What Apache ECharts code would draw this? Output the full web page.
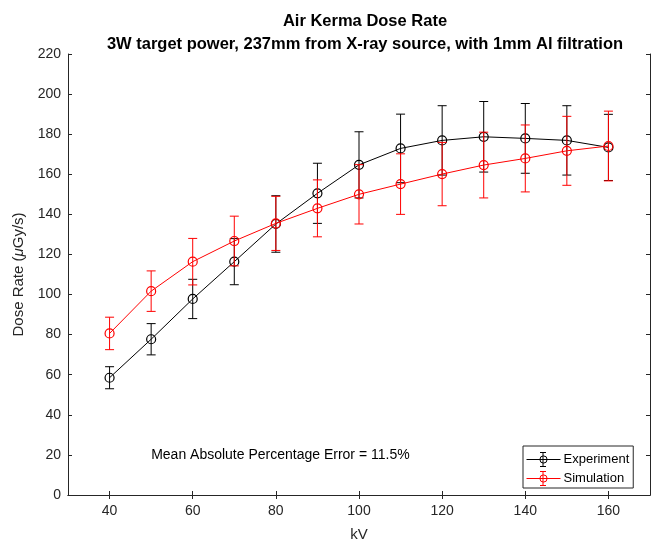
<!DOCTYPE html>
<html>
<head>
<meta charset="utf-8">
<script src="https://cdn.jsdelivr.net/npm/echarts@6/dist/echarts.min.js"></script>
<style>
  html, body { margin: 0; padding: 0; background: #fff; }
  #main { width: 653px; height: 542px; }
</style>
</head>
<body>
<div id="main"></div>
<script>
// kV settings
var kv = [40, 50, 60, 70, 80, 90, 100, 110, 120, 130, 140, 150, 160];
// measured dose rate (uGy/s) and error half-width
var expVal = [58.5, 77.7, 97.8, 116.4, 135.2, 150.5, 164.7, 172.9, 176.9, 178.7, 177.9, 176.9, 173.4];
var expErr = [5.5, 7.8, 9.8, 11.5, 14.1, 15.0, 16.5, 17.1, 17.3, 17.6, 17.4, 17.3, 16.5];
// simulated dose rate and error half-width
var simVal = [80.6, 101.7, 116.4, 126.7, 135.5, 143.0, 150.0, 155.1, 160.1, 164.6, 167.9, 171.7, 174.1];
var simErr = [8.1, 10.1, 11.6, 12.4, 13.5, 14.2, 14.8, 15.1, 15.8, 16.4, 16.7, 17.2, 17.4];
var xTicks = [40, 60, 80, 100, 120, 140, 160];

var FONT = "'Liberation Sans', Arial, Helvetica, sans-serif";
var AX = "#262626";

function pts(vals) {
    return kv.map(function (k, i) { return [k, vals[i]]; });
}
function bars(vals, errs) {
    return kv.map(function (k, i) { return [k, vals[i] - errs[i], vals[i] + errs[i]]; });
}
// error bar drawing: vertical line + caps
function errRender(color) {
    return function (params, api) {
        var x = api.value(0);
        var lo = api.coord([x, api.value(1)]);
        var hi = api.coord([x, api.value(2)]);
        var w = 4.5;
        var st = { stroke: color, lineWidth: 1 };
        return {
            type: "group",
            children: [
                { type: "line", shape: { x1: hi[0], y1: hi[1], x2: lo[0], y2: lo[1] }, style: st },
                { type: "line", shape: { x1: hi[0] - w, y1: hi[1], x2: hi[0] + w, y2: hi[1] }, style: st },
                { type: "line", shape: { x1: lo[0] - w, y1: lo[1], x2: lo[0] + w, y2: lo[1] }, style: st },
            ],
        };
    };
}
function lineSeries(name, vals, color, z) {
    return {
        name: name,
        type: "line",
        data: pts(vals),
        xAxisIndex: 0,
        yAxisIndex: 0,
        symbol: "circle",
        symbolSize: 9,
        z: z,
        lineStyle: { color: color, width: 1 },
        itemStyle: { color: "rgba(0,0,0,0)", borderColor: color, borderWidth: 1.2 },
        emphasis: { disabled: true },
        animation: false,
    };
}
function errSeries(vals, errs, color, z) {
    return {
        type: "custom",
        data: bars(vals, errs),
        xAxisIndex: 0,
        yAxisIndex: 0,
        z: z,
        renderItem: errRender(color),
        encode: { x: 0, y: [1, 2] },
        animation: false,
        silent: true,
    };
}

// legend box placement
var LEG_LEFT = 523, LEG_TOP = 446, LEG_PAD_L = 3, LEG_PAD_T = 6, LEG_ICON_W = 34, LEG_ROW_H = 15, LEG_GAP = 4;

var myChart = echarts.init(document.getElementById("main"));
myChart.setOption({
    animation: false,
    title: {
        text: "Air Kerma Dose Rate\n3W target power, 237mm from X-ray source, with 1mm Al filtration",
        left: 360,
        textAlign: "center",
        top: 5,
        textStyle: { fontFamily: FONT, fontSize: 16.5, fontWeight: "bold", color: "#000", lineHeight: 23 },
    },
    grid: { left: 68, top: 54, right: 3, bottom: 47, containLabel: false, outerBoundsMode: "none" },
    xAxis: [
        {
            type: "value",
            position: "bottom",
            min: 30,
            max: 170,
            name: "kV",
            nameLocation: "middle",
            nameGap: 32,
            nameTextStyle: { fontFamily: FONT, fontSize: 15, color: AX },
            axisLine: { show: true, lineStyle: { color: AX, width: 1 } },
            axisTick: { show: true, inside: true, length: 4, customValues: xTicks, lineStyle: { color: AX } },
            axisLabel: { customValues: xTicks, margin: 9, fontFamily: FONT, fontSize: 14, color: AX },
            splitLine: { show: false },
        },
        {
            type: "value",
            position: "top",
            min: 30,
            max: 170,
            axisLine: { show: true, lineStyle: { color: AX, width: 1 } },
            axisTick: { show: true, inside: true, length: 4, customValues: xTicks, lineStyle: { color: AX } },
            axisLabel: { show: false },
            splitLine: { show: false },
        },
    ],
    yAxis: [
        {
            type: "value",
            position: "left",
            min: 0,
            max: 220,
            interval: 20,
            name: "{n|Dose Rate (}{i|μ}{n|Gy/s)}",
            nameLocation: "middle",
            nameGap: 37,
            nameTextStyle: {
                rich: {
                    n: { fontFamily: FONT, fontSize: 15, color: AX },
                    i: { fontFamily: FONT, fontSize: 15, color: AX, fontStyle: "italic" },
                },
            },
            axisLine: { show: true, lineStyle: { color: AX, width: 1 } },
            axisTick: { show: true, inside: true, length: 4, lineStyle: { color: AX } },
            axisLabel: { margin: 7, fontFamily: FONT, fontSize: 14, color: AX },
            splitLine: { show: false },
        },
        {
            type: "value",
            position: "right",
            min: 0,
            max: 220,
            interval: 20,
            axisLine: { show: true, lineStyle: { color: AX, width: 1 } },
            axisTick: { show: true, inside: true, length: 4, lineStyle: { color: AX } },
            axisLabel: { show: false },
            splitLine: { show: false },
        },
    ],
    legend: {
        orient: "vertical",
        left: LEG_LEFT,
        top: LEG_TOP,
        padding: [LEG_PAD_T, 4, 2, LEG_PAD_L],
        itemGap: LEG_GAP,
        itemWidth: LEG_ICON_W,
        itemHeight: 9,
        borderColor: AX,
        borderWidth: 1,
        backgroundColor: "#fff",
        lineStyle: { width: 1 },
        itemStyle: { borderWidth: 1 },
        textStyle: { fontFamily: FONT, fontSize: 13, color: "#000", lineHeight: LEG_ROW_H, padding: [0, 0, 0, -2] },
        data: ["Experiment", "Simulation"],
    },
    series: [
        errSeries(expVal, expErr, "#000000", 2),
        lineSeries("Experiment", expVal, "#000000", 3),
        errSeries(simVal, simErr, "#ff0000", 4),
        lineSeries("Simulation", simVal, "#ff0000", 5),
    ],
});

// annotation text at data coords (50, 20), plus error-bar glyphs on the legend icons
var p = myChart.convertToPixel({ gridIndex: 0 }, [50, 20]);
function legendGlyph(row, color) {
    var cx = LEG_LEFT + LEG_PAD_L + LEG_ICON_W / 2;
    var cy = LEG_TOP + LEG_PAD_T + LEG_ROW_H / 2 + row * (LEG_ROW_H + LEG_GAP);
    var st = { stroke: color, lineWidth: 1 };
    return [
        { type: "line", z: 300, zlevel: 1, shape: { x1: cx, y1: cy - 7, x2: cx, y2: cy + 7 }, style: st },
        { type: "line", z: 300, zlevel: 1, shape: { x1: cx - 3, y1: cy - 7, x2: cx + 3, y2: cy - 7 }, style: st },
        { type: "line", z: 300, zlevel: 1, shape: { x1: cx - 3, y1: cy + 7, x2: cx + 3, y2: cy + 7 }, style: st },
    ];
}
myChart.setOption({
    graphic: [
        {
            type: "text",
            x: p[0],
            y: p[1],
            style: {
                text: "Mean Absolute Percentage Error = 11.5%",
                fontFamily: FONT,
                fontSize: 14,
                fill: "#000",
                textAlign: "left",
                textVerticalAlign: "middle",
            },
        },
    ].concat(legendGlyph(0, "#000000"), legendGlyph(1, "#ff0000")),
});
</script>
</body>
</html>
